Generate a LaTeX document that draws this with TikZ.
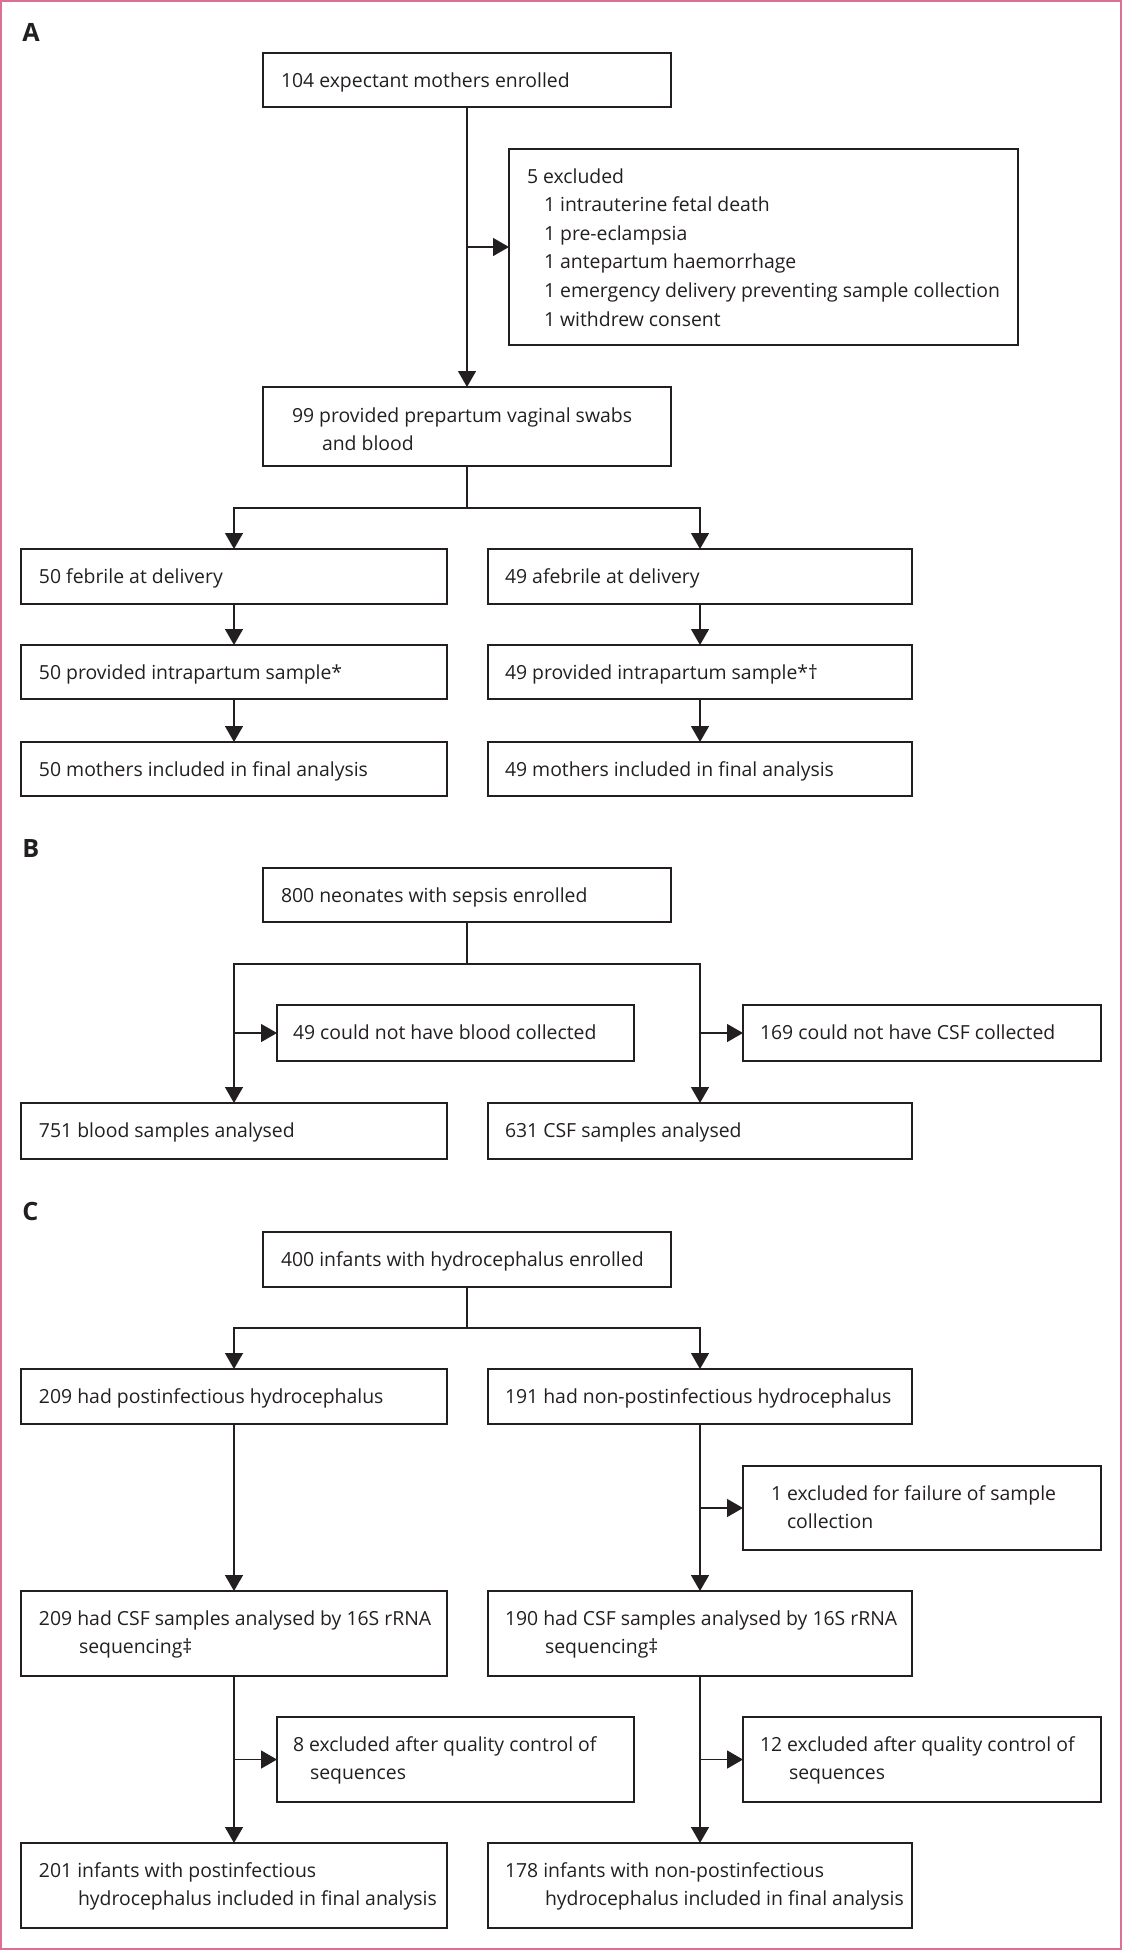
\documentclass[tikz,border=0pt]{standalone}
\usepackage{fontspec}
\setmainfont{Open Sans}
\usetikzlibrary{arrows.meta,calc}
\definecolor{ink}{HTML}{231F20}
\definecolor{framecol}{RGB}{219,112,147}
\tikzset{
  x=0.5pt, y=-0.5pt,
  box/.style={draw=ink, line width=0.7pt, rectangle, inner sep=0pt, outer sep=0pt},
  txt/.style={anchor=base west, inner sep=0pt, outer sep=0pt, text=ink, font=\fontsize{9.7}{14.15}\selectfont},
  panel/.style={anchor=base west, inner sep=0pt, text=ink, font=\fontsize{12.6}{15}\selectfont\bfseries},
  ln/.style={draw=ink, line width=0.7pt},
  arr/.style={ln, -{Triangle[length=8pt,width=9pt]}},
  arrtwo/.style={ln, {Triangle[length=8pt,width=9pt]}-{Triangle[length=8pt,width=9pt]}},
}
\newcommand\mkbox[5]{%
  \node[box, minimum width={(#4-#2)*0.5pt}, minimum height={(#5-#3)*0.5pt}] (#1) at ({(#2+#4)/2},{(#3+#5)/2}) {};}
\begin{document}
\begin{tikzpicture}
\useasboundingbox (0,0) rectangle (1122,1950);
\draw[framecol, line width=1.2pt] (1.2,1.2) rectangle (1120.8,1948.8);

% ---------------- Panel A
\node[panel] (pA) at (22,41) {A};
\mkbox{a1}{263}{53}{671}{107}
\node[txt] (a1t) at (281,87) {104 expectant mothers enrolled};
\mkbox{aex}{509}{149}{1018}{345}
\node[txt] (aext1) at (527,183) {5 excluded};
\node[txt] (aext2) at (544,211.5) {1 intrauterine fetal death};
\node[txt] (aext3) at (544,240) {1 pre-eclampsia};
\node[txt] (aext4) at (544,268.5) {1 antepartum haemorrhage};
\node[txt] (aext5) at (544,297) {1 emergency delivery preventing sample collection};
\node[txt] (aext6) at (544,326) {1 withdrew consent};
\mkbox{a2}{263}{387}{671}{466}
\node[txt] (a2t1) at (292,422) {99 provided prepartum vaginal swabs};
\node[txt] (a2t2) at (322,450) {and blood};
\mkbox{a3l}{21}{549}{447}{604}
\node[txt] (a3lt) at (39,583) {50 febrile at delivery};
\mkbox{a3r}{488}{549}{912}{604}
\node[txt] (a3rt) at (505,583) {49 afebrile at delivery};
\mkbox{a4l}{21}{645}{447}{699}
\node[txt] (a4lt) at (39,679) {50 provided intrapartum sample*};
\mkbox{a4r}{488}{645}{912}{699}
\node[txt] (a4rt) at (505,679) {49 provided intrapartum sample*†};
\mkbox{a5l}{21}{742}{447}{796}
\node[txt] (a5lt) at (39,776) {50 mothers included in final analysis};
\mkbox{a5r}{488}{742}{912}{796}
\node[txt] (a5rt) at (505,776) {49 mothers included in final analysis};
\coordinate (ja) at (467,508);
\draw[arr] (a1.south) -- (a2.north);
\draw[arr] (a1.south |- aex.west) -- (aex.west);
\draw[ln] (a2.south) -- (ja);
\draw[arrtwo] (a3l.north) |- (ja) -| (a3r.north);
\draw[arr] (a3l.south) -- (a4l.north);
\draw[arr] (a3r.south) -- (a4r.north);
\draw[arr] (a4l.south) -- (a5l.north);
\draw[arr] (a4r.south) -- (a5r.north);

% ---------------- Panel B
\node[panel] (pB) at (22,857) {B};
\mkbox{b1}{263}{868}{671}{922}
\node[txt] (b1t) at (281,902) {800 neonates with sepsis enrolled};
\coordinate (jb) at (467,964);
\mkbox{bx1}{277}{1005}{634}{1061}
\node[txt] (bx1t) at (293,1039) {49 could not have blood collected};
\mkbox{bx2}{743}{1005}{1101}{1061}
\node[txt] (bx2t) at (760,1039) {169 could not have CSF collected};
\mkbox{b2l}{21}{1103}{447}{1159}
\node[txt] (b2lt) at (39,1137) {751 blood samples analysed};
\mkbox{b2r}{488}{1103}{912}{1159}
\node[txt] (b2rt) at (505,1137) {631 CSF samples analysed};
\draw[ln] (b1.south) -- (jb);
\draw[arrtwo] (b2l.north) |- (jb) -| (b2r.north);
\draw[arr] (b2l.north |- bx1.west) -- (bx1.west);
\draw[arr] (b2r.north |- bx2.west) -- (bx2.west);

% ---------------- Panel C
\node[panel] (pC) at (22,1220) {C};
\mkbox{c1}{263}{1232}{671}{1287}
\node[txt] (c1t) at (281,1266) {400 infants with hydrocephalus enrolled};
\coordinate (jc) at (467,1328);
\mkbox{c2l}{21}{1369}{447}{1424}
\node[txt] (c2lt) at (39,1403) {209 had postinfectious hydrocephalus};
\mkbox{c2r}{488}{1369}{912}{1424}
\node[txt] (c2rt) at (505,1403) {191 had non-postinfectious hydrocephalus};
\mkbox{cx1}{743}{1466}{1101}{1550}
\node[txt] (cx1t1) at (771,1500) {1 excluded for failure of sample};
\node[txt] (cx1t2) at (787,1528) {collection};
\mkbox{c3l}{21}{1591}{447}{1676}
\node[txt] (c3lt1) at (39,1625) {209 had CSF samples analysed by 16S rRNA};
\node[txt] (c3lt2) at (79,1653) {sequencing‡};
\mkbox{c3r}{488}{1591}{912}{1676}
\node[txt] (c3rt1) at (505,1625) {190 had CSF samples analysed by 16S rRNA};
\node[txt] (c3rt2) at (545,1653) {sequencing‡};
\mkbox{cx2}{277}{1717}{634}{1802}
\node[txt] (cx2t1) at (293,1751) {8 excluded after quality control of};
\node[txt] (cx2t2) at (310,1779) {sequences};
\mkbox{cx3}{743}{1717}{1101}{1802}
\node[txt] (cx3t1) at (760,1751) {12 excluded after quality control of};
\node[txt] (cx3t2) at (789,1779) {sequences};
\mkbox{c4l}{21}{1843}{447}{1928}
\node[txt] (c4lt1) at (39,1877) {201 infants with postinfectious};
\node[txt] (c4lt2) at (78,1905) {hydrocephalus included in final analysis};
\mkbox{c4r}{488}{1843}{912}{1928}
\node[txt] (c4rt1) at (505,1877) {178 infants with non-postinfectious};
\node[txt] (c4rt2) at (545,1905) {hydrocephalus included in final analysis};
\draw[ln] (c1.south) -- (jc);
\draw[arrtwo] (c2l.north) |- (jc) -| (c2r.north);
\draw[arr] (c2l.south) -- (c3l.north);
\draw[arr] (c2r.south) -- (c3r.north);
\draw[arr] (c2r.south |- cx1.west) -- (cx1.west);
\draw[arr] (c3l.south) -- (c4l.north);
\draw[arr] (c3l.south |- cx2.west) -- (cx2.west);
\draw[arr] (c3r.south) -- (c4r.north);
\draw[arr] (c3r.south |- cx3.west) -- (cx3.west);
\end{tikzpicture}
\end{document}
